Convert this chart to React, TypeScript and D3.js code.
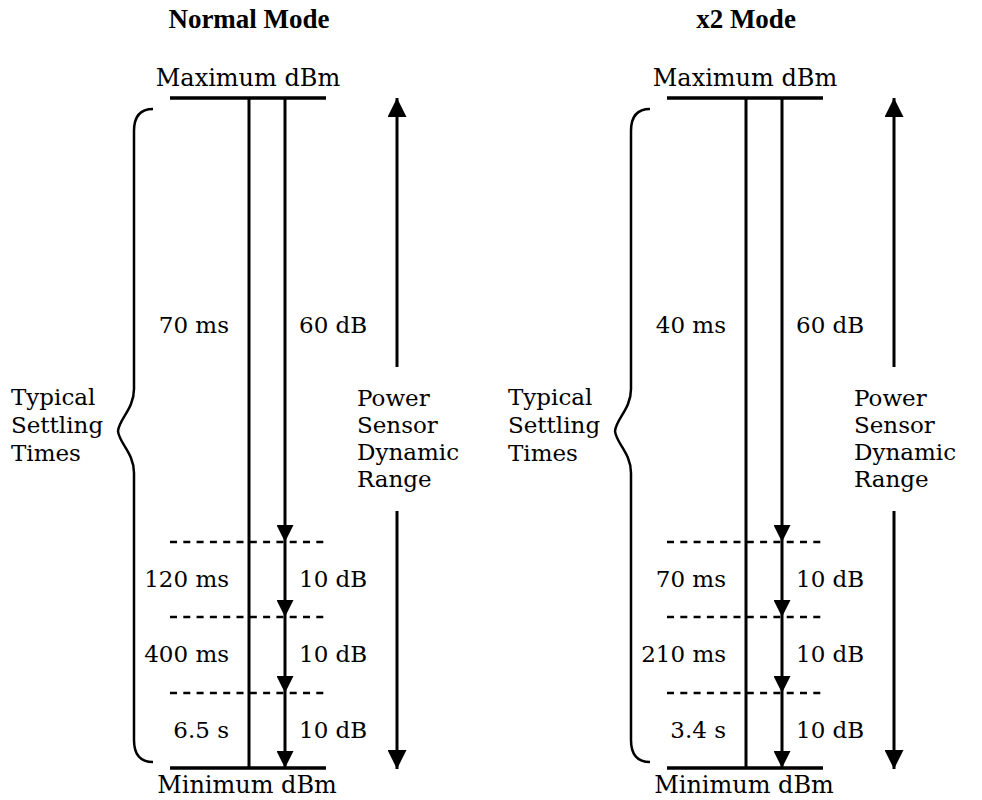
import * as d3 from 'd3';
import React, { useEffect, useRef } from 'react';

// two panels of the settling-time diagram
const modes = ['Normal Mode', 'x2 Mode'];
const rangeSteps = [60, 10, 10, 10]; // dB per segment
const settlingNormal = ['70 ms', '120 ms', '400 ms', '6.5 s'];
const settlingX2 = ['40 ms', '70 ms', '210 ms', '3.4 s'];
const leftLabel = ['Typical', 'Settling', 'Times'];
const rightLabel = ['Power', 'Sensor', 'Dynamic', 'Range'];

const W = 982;
const H = 800;
const FONT = '"DejaVu Serif", serif';
const FS = 23;

const App = () => {
  const ref = useRef<SVGSVGElement>(null);

  useEffect(() => {
    const svg = d3.select(ref.current);
    svg.selectAll('*').remove();

    const defs = svg.append('defs');
    const marker = (id: string, size: number) => defs.append('marker')
      .attr('id', id)
      .attr('viewBox', '0 0 10 10')
      .attr('refX', 10)
      .attr('refY', 5)
      .attr('markerUnits', 'userSpaceOnUse')
      .attr('markerWidth', size)
      .attr('markerHeight', size)
      .attr('orient', 'auto')
      .append('path')
      .attr('d', 'M0,0L10,5L0,10Z')
      .attr('fill', '#000');
    marker('head', 17);
    marker('head2', 19);

    // panel offset
    const px = d3.scaleBand().domain(modes).range([0, 994]);

    // cumulative dB -> vertical position
    const cum = [0];
    rangeSteps.forEach(d => cum.push(cum[cum.length - 1] + d));
    const y = d3.scaleLinear().domain(cum).range([98, 542, 617, 693, 768]);

    modes.forEach((mode, mi) => {
      const settle = mi === 0 ? settlingNormal : settlingX2;
      const g = svg.append('g').attr('transform', `translate(${px(mode)},0)`);
      const xL = 249, xA = 285, x0 = 170, x1 = 326, xR = 397;

      g.append('text')
        .attr('x', 249).attr('y', 28)
        .attr('text-anchor', 'middle')
        .attr('font-family', '"Liberation Serif", serif')
        .attr('font-weight', 'bold')
        .attr('font-size', 27)
        .text(mode);

      g.append('text')
        .attr('x', 248).attr('y', 86)
        .attr('text-anchor', 'middle')
        .attr('font-family', FONT)
        .attr('font-size', 24)
        .text('Maximum dBm');

      g.append('text')
        .attr('x', 247).attr('y', 793)
        .attr('text-anchor', 'middle')
        .attr('font-family', FONT)
        .attr('font-size', 24)
        .text('Minimum dBm');

      // top and bottom bars
      [cum[0], cum[cum.length - 1]].forEach(v => {
        g.append('line')
          .attr('x1', x0).attr('x2', x1)
          .attr('y1', y(v)).attr('y2', y(v))
          .attr('stroke', '#000').attr('stroke-width', 3.5);
      });

      // dotted dividers
      cum.slice(1, -1).forEach(v => {
        g.append('line')
          .attr('x1', x0).attr('x2', x1)
          .attr('y1', y(v)).attr('y2', y(v))
          .attr('stroke', '#000').attr('stroke-width', 2.5)
          .attr('stroke-dasharray', '7 6.3');
      });

      // plain vertical line
      g.append('line')
        .attr('x1', xL).attr('x2', xL)
        .attr('y1', y(cum[0])).attr('y2', y(cum[cum.length - 1]))
        .attr('stroke', '#000').attr('stroke-width', 3);

      // arrow segments
      rangeSteps.forEach((d, i) => {
        g.append('line')
          .attr('x1', xA).attr('x2', xA)
          .attr('y1', y(cum[i])).attr('y2', y(cum[i + 1]))
          .attr('stroke', '#000').attr('stroke-width', 3)
          .attr('marker-end', 'url(#head)');

        const mid = (y(cum[i]) + y(cum[i + 1])) / 2 + (i === 0 ? 13 : 7);
        g.append('text')
          .attr('x', xA + 14).attr('y', mid)
          .attr('font-family', FONT).attr('font-size', FS)
          .text(`${d} dB`);
        g.append('text')
          .attr('x', xL - 20).attr('y', mid)
          .attr('text-anchor', 'end')
          .attr('font-family', FONT).attr('font-size', FS)
          .text(settle[i]);
      });

      // brace
      const bx = 134, bt = 109, bb = 762, bm = 431;
      const brace = d3.path();
      brace.moveTo(bx + 19, bt);
      brace.bezierCurveTo(bx + 4, bt, bx, bt + 10, bx, bt + 22);
      brace.lineTo(bx, bm - 42);
      brace.bezierCurveTo(bx, bm - 22, bx - 15, bm - 12, bx - 16, bm);
      brace.bezierCurveTo(bx - 15, bm + 12, bx, bm + 22, bx, bm + 42);
      brace.lineTo(bx, bb - 22);
      brace.bezierCurveTo(bx, bb - 10, bx + 4, bb, bx + 19, bb);
      g.append('path')
        .attr('d', brace.toString())
        .attr('fill', 'none')
        .attr('stroke', '#000').attr('stroke-width', 2.5);

      g.append('g').selectAll('text')
        .data(leftLabel)
        .join('text')
        .attr('x', 11)
        .attr('y', (_, i) => 405 + i * 28)
        .attr('font-family', FONT).attr('font-size', FS)
        .text(d => d);

      // dynamic range double arrow
      g.append('line')
        .attr('x1', xR).attr('x2', xR)
        .attr('y1', 367).attr('y2', 98)
        .attr('stroke', '#000').attr('stroke-width', 3)
        .attr('marker-end', 'url(#head2)');
      g.append('line')
        .attr('x1', xR).attr('x2', xR)
        .attr('y1', 511).attr('y2', 769)
        .attr('stroke', '#000').attr('stroke-width', 3)
        .attr('marker-end', 'url(#head2)');

      g.append('g').selectAll('text')
        .data(rightLabel)
        .join('text')
        .attr('x', xR - 40)
        .attr('y', (_, i) => 406 + i * 27)
        .attr('font-family', FONT).attr('font-size', FS)
        .text(d => d);
    });
  }, []);

  return (
    <svg ref={ref} width={W} height={H}
      style={{ position: 'absolute', left: 0, top: 0, display: 'block' }}></svg>
  );
};

export default App;
